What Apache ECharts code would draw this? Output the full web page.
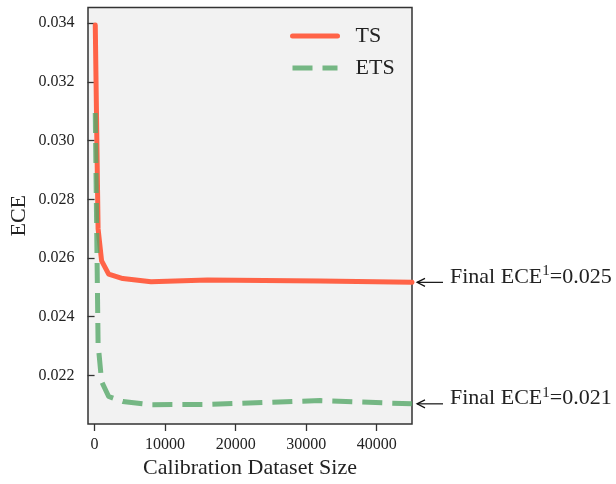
<!DOCTYPE html>
<html>
<head>
<meta charset="utf-8">
<script src="https://cdn.jsdelivr.net/npm/echarts@6/dist/echarts.min.js"></script>
<style>
html,body{margin:0;padding:0;background:#fff;}
#chart{width:616px;height:484px;}
</style>
</head>
<body>
<div id="chart"></div>
<script>
// ---- data ----
const sizes = [100, 500, 1000, 2000, 4000, 8000, 16000, 32000, 45000];
const tsECE = [0.03394, 0.0270, 0.0259, 0.02545, 0.0253, 0.02519, 0.02525, 0.02522, 0.02517];
const etsECE = [0.03094, 0.02308, 0.02179, 0.02128, 0.02111, 0.02100, 0.02101, 0.02114, 0.02103];
const seriesNames = ['TS', 'ETS'];
const xTicks = [0, 10000, 20000, 30000, 40000];
const yTicks = [0.022, 0.024, 0.026, 0.028, 0.030, 0.032, 0.034];
const finalLabels = ['0.025', '0.021'];

const FONT = '"Liberation Serif", "Times New Roman", serif';
const TXT = '#222';
const AX = '#333';

const chart = echarts.init(document.getElementById('chart'), null, {renderer: 'canvas'});

const toPairs = (xs, ys) => xs.map((x, i) => [x, ys[i]]);

const option = {
  animation: false,
  backgroundColor: '#ffffff',
  grid: {
    left: 87, right: 204, top: 7.5, bottom: 58.5,
    show: true, backgroundColor: '#f2f2f2', borderColor: AX, borderWidth: 1.5,
    containLabel: false
  },
  legend: {
    orient: 'vertical',
    left: 290, top: 25,
    padding: 0,
    itemWidth: 45, itemHeight: 14, itemGap: 10,
    textStyle: {fontFamily: FONT, fontSize: 22, color: TXT, padding: [0, 0, 0, 13]},
    lineStyle: {width: 5},
    itemStyle: {opacity: 0},
    data: seriesNames
  },
  xAxis: {
    type: 'value',
    min: -930, max: 45000,
    name: 'Calibration Dataset Size',
    nameLocation: 'middle',
    nameGap: 33,
    nameMoveOverlap: false,
    nameTextStyle: {fontFamily: FONT, fontSize: 22, color: TXT},
    axisLine: {show: false},
    axisTick: {show: true, inside: false, length: 7, lineStyle: {color: AX, width: 1.3}, customValues: xTicks},
    axisLabel: {fontFamily: FONT, fontSize: 16, color: TXT, margin: 13, customValues: xTicks,
      formatter: v => String(v)},
    splitLine: {show: false}
  },
  yAxis: {
    type: 'value',
    min: 0.020343, max: 0.034536,
    name: 'ECE',
    nameLocation: 'middle',
    nameGap: 58,
    nameMoveOverlap: false,
    nameTextStyle: {fontFamily: FONT, fontSize: 22, color: TXT},
    axisLine: {show: false},
    axisTick: {show: true, inside: false, length: 7, lineStyle: {color: AX, width: 1.3}, customValues: yTicks},
    axisLabel: {fontFamily: FONT, fontSize: 16, color: TXT, margin: 13.5, customValues: yTicks,
      formatter: v => v.toFixed(3)},
    splitLine: {show: false}
  },
  series: [
    {
      name: seriesNames[0], type: 'line', data: toPairs(sizes, tsECE),
      symbol: 'none', smooth: false,
      lineStyle: {color: '#ff6347', width: 5, cap: 'round', join: 'round'},
      itemStyle: {color: '#ff6347'}
    },
    {
      name: seriesNames[1], type: 'line', data: toPairs(sizes, etsECE),
      symbol: 'none', smooth: false,
      lineStyle: {color: 'rgba(85,168,104,0.8)', width: 5, type: [20, 10], cap: 'butt', join: 'round'},
      itemStyle: {color: 'rgba(85,168,104,0.8)'}
    }
  ]
};
chart.setOption(option);

function annotations() {
  const els = [];
  const finals = [tsECE[tsECE.length - 1], etsECE[etsECE.length - 1]];
  const lastX = sizes[sizes.length - 1];
  finals.forEach((v, i) => {
    const p = chart.convertToPixel({xAxisIndex: 0, yAxisIndex: 0}, [lastX, v]);
    const px = p[0], py = p[1];
    const tip = px + 5;
    els.push({type: 'line', silent: true, z: 100,
      shape: {x1: tip, y1: py, x2: px + 31, y2: py},
      style: {stroke: '#111', lineWidth: 1.2}});
    els.push({type: 'polyline', silent: true, z: 100,
      shape: {points: [[tip + 8, py - 4], [tip, py], [tip + 8, py + 4]]},
      style: {stroke: '#111', lineWidth: 1.2, fill: null}});
    els.push({type: 'text', silent: true, z: 100,
      x: px + 38, y: py - 5.5,
      style: {
        text: '{b|Final ECE}{s|1}{b|=' + finalLabels[i] + '}',
        verticalAlign: 'middle', align: 'left',
        rich: {
          b: {fontFamily: FONT, fontSize: 22, lineHeight: 26, fill: TXT, verticalAlign: 'middle'},
          s: {fontFamily: FONT, fontSize: 15, lineHeight: 15, fill: TXT, verticalAlign: 'top'}
        }
      }});
  });
  chart.setOption({graphic: els});
}
annotations();
</script>
</body>
</html>
